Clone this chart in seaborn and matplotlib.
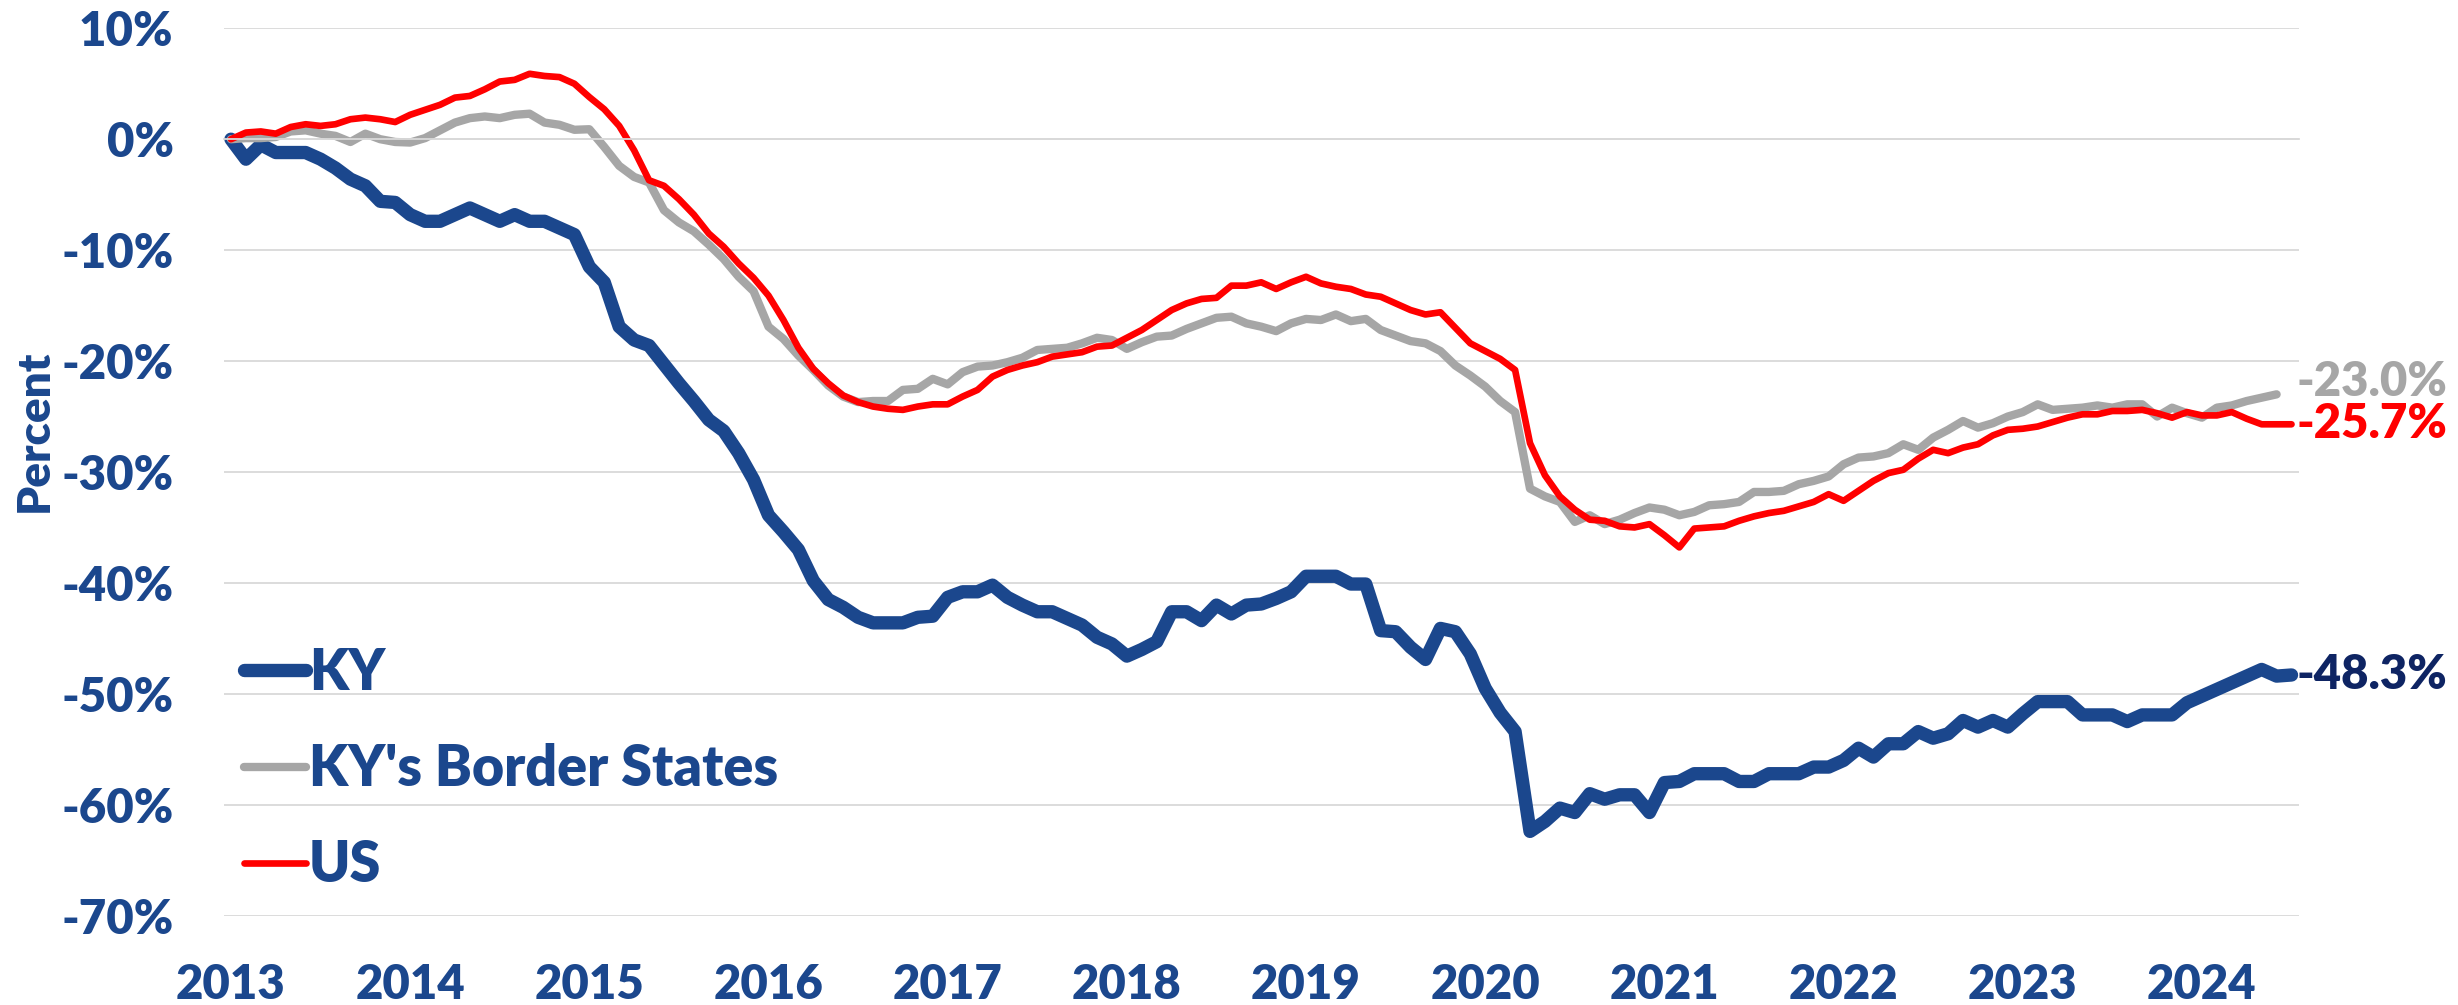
import numpy as np
import pandas as pd
import matplotlib
matplotlib.use("Agg")
import matplotlib.pyplot as plt
import seaborn as sns

# Cumulative percent change since January 2013, monthly (Jan 2013 - Jul 2024)
ky = [
    0.0, -1.8, -0.5, -1.2, -1.2, -1.2, -1.8, -2.6, -3.6, -4.2, -5.6, -5.7,
    -6.8, -7.4, -7.4, -6.8, -6.2, -6.8, -7.4, -6.8, -7.4, -7.4, -8.0, -8.6,
    -11.5, -12.9, -16.9, -18.1, -18.6, -20.3, -22.0, -23.6, -25.3, -26.3, -28.3, -30.7,
    -33.9, -35.4, -37.0, -39.8, -41.5, -42.2, -43.1, -43.6, -43.6, -43.6, -43.1, -43.0,
    -41.3, -40.8, -40.8, -40.2, -41.3, -42.0, -42.6, -42.6, -43.2, -43.8, -44.9, -45.5,
    -46.6, -46.0, -45.3, -42.6, -42.6, -43.4, -42.0, -42.8, -42.0, -41.9, -41.4, -40.8,
    -39.4, -39.4, -39.4, -40.1, -40.1, -44.3, -44.4, -45.8, -46.9, -44.1, -44.4, -46.4,
    -49.5, -51.7, -53.4, -62.4, -61.5, -60.3, -60.7, -59.0, -59.5, -59.1, -59.1, -60.7,
    -58.0, -57.9, -57.2, -57.2, -57.2, -57.9, -57.9, -57.2, -57.2, -57.2, -56.6, -56.6,
    -56.0, -54.9, -55.7, -54.5, -54.5, -53.4, -54.0, -53.6, -52.4, -53.0, -52.4, -53.0,
    -51.8, -50.7, -50.7, -50.7, -51.9, -51.9, -51.9, -52.5, -51.9, -51.9, -51.9, -50.8,
    -50.2, -49.6, -49.0, -48.4, -47.8, -48.4, -48.3,
]

border_states = [
    0.0, 0.1, 0.1, 0.2, 0.7, 0.8, 0.5, 0.3, -0.25, 0.5, 0.0, -0.25,
    -0.3, 0.1, 0.8, 1.5, 1.9, 2.05, 1.9, 2.2, 2.3, 1.5, 1.3, 0.85,
    0.9, -0.7, -2.4, -3.4, -3.9, -6.4, -7.5, -8.3, -9.5, -10.8, -12.4, -13.7,
    -16.9, -18.0, -19.5, -20.8, -22.2, -23.2, -23.7, -23.6, -23.6, -22.6, -22.5, -21.6,
    -22.1, -21.0, -20.5, -20.4, -20.1, -19.7, -19.0, -18.9, -18.8, -18.4, -17.9, -18.1,
    -18.9, -18.3, -17.8, -17.7, -17.1, -16.6, -16.1, -16.0, -16.6, -16.9, -17.3, -16.6,
    -16.2, -16.3, -15.8, -16.4, -16.2, -17.2, -17.7, -18.2, -18.4, -19.1, -20.4, -21.3,
    -22.3, -23.6, -24.6, -31.5, -32.2, -32.7, -34.5, -33.9, -34.7, -34.3, -33.7, -33.2,
    -33.4, -33.9, -33.6, -33.0, -32.9, -32.7, -31.8, -31.8, -31.7, -31.1, -30.8, -30.4,
    -29.3, -28.7, -28.6, -28.3, -27.5, -28.0, -26.9, -26.2, -25.4, -26.0, -25.6, -25.0,
    -24.6, -23.9, -24.4, -24.3, -24.2, -24.0, -24.2, -23.9, -23.9, -25.0, -24.2, -24.7,
    -25.1, -24.2, -24.0, -23.6, -23.3, -23.0, np.nan,
]

us = [
    0.0, 0.6, 0.7, 0.5, 1.1, 1.35, 1.2, 1.35, 1.8, 1.95, 1.8, 1.55,
    2.2, 2.65, 3.1, 3.75, 3.9, 4.5, 5.2, 5.35, 5.9, 5.7, 5.6, 5.0,
    3.8, 2.7, 1.2, -1.0, -3.7, -4.2, -5.4, -6.8, -8.5, -9.7, -11.2, -12.5,
    -14.1, -16.3, -18.8, -20.7, -22.0, -23.1, -23.7, -24.1, -24.3, -24.4, -24.1, -23.9,
    -23.9, -23.2, -22.6, -21.4, -20.8, -20.4, -20.1, -19.6, -19.4, -19.2, -18.7, -18.6,
    -17.9, -17.2, -16.3, -15.4, -14.8, -14.4, -14.3, -13.2, -13.2, -12.9, -13.5, -12.9,
    -12.4, -13.0, -13.3, -13.5, -14.0, -14.2, -14.8, -15.4, -15.8, -15.6, -17.0, -18.4,
    -19.1, -19.8, -20.8, -27.4, -30.3, -32.2, -33.4, -34.3, -34.4, -34.9, -35.0, -34.7,
    -35.7, -36.8, -35.1, -35.0, -34.9, -34.4, -34.0, -33.7, -33.5, -33.1, -32.7, -32.0,
    -32.6, -31.7, -30.8, -30.1, -29.8, -28.8, -28.0, -28.3, -27.8, -27.5, -26.7, -26.2,
    -26.1, -25.9, -25.5, -25.1, -24.8, -24.8, -24.5, -24.5, -24.4, -24.7, -25.1, -24.6,
    -24.9, -24.9, -24.6, -25.2, -25.7, -25.7, -25.7,
]

series_names = ["KY", "KY's Border States", "US"]
year_labels = [str(y) for y in range(2013, 2025)]
y_ticks = [10, 0, -10, -20, -30, -40, -50, -60, -70]
y_tick_labels = ["10%", "0%", "-10%", "-20%", "-30%", "-40%", "-50%", "-60%", "-70%"]

BLUE = "#1B478D"
NAVY = "#0E2463"
GREY = "#A6A6A6"
RED = "#FF0000"
GRID = "#D9D9D9"
WEIGHT = "heavy"

sns.set_theme(style="white")
plt.rcParams["font.family"] = ["Lato", "DejaVu Sans"]
plt.rcParams["font.weight"] = WEIGHT

months = pd.date_range("2013-01-01", periods=len(ky), freq="MS")
df = pd.DataFrame({
    "pos": np.arange(len(months)),
    series_names[0]: ky,
    series_names[1]: border_states,
    series_names[2]: us,
})
long = df.melt(id_vars="pos", var_name="series", value_name="pct")

fig = plt.figure(figsize=(24.58, 10.05), dpi=100)
ax = fig.add_axes([0.09093, 0.08886, 0.84438, 0.88299])

styles = {
    "KY": dict(color=BLUE, linewidth=9.6),
    "KY's Border States": dict(color=GREY, linewidth=6.0),
    "US": dict(color=RED, linewidth=4.8),
}
for name in series_names:
    sub = long[long["series"] == name].dropna()
    sns.lineplot(data=sub, x="pos", y="pct", ax=ax, estimator=None, legend=False,
                 solid_capstyle="round", solid_joinstyle="round", **styles[name])

ax.set_xlim(-0.5, len(months) - 0.5)
ax.set_ylim(-70, 10)
ax.set_xlabel("")
ax.set_ylabel("")

# horizontal gridlines
ax.set_yticks(y_ticks)
ax.set_yticklabels(y_tick_labels)
ax.yaxis.grid(True, color=GRID, linewidth=1.3)
ax.xaxis.grid(False)
ax.set_axisbelow(True)
ax.tick_params(axis="y", length=0, pad=36, labelsize=34, labelcolor=BLUE)
for lab in ax.get_yticklabels():
    lab.set_fontweight(WEIGHT)

for side in ("left", "right", "top"):
    ax.spines[side].set_visible(False)

# category axis drawn along the 0% line with quarterly tick marks
ax.spines["bottom"].set_position(("data", 0))
ax.spines["bottom"].set_color(GRID)
ax.spines["bottom"].set_linewidth(1.3)
ax.set_xticks(np.arange(-0.5, len(months) - 0.5, 3))
ax.tick_params(axis="x", direction="in", length=10.8, width=1.3, color=GRID,
               labelbottom=False)

# year labels along the bottom of the plot
sec = ax.secondary_xaxis("bottom")
sec.set_xticks(np.arange(0, len(months), 12))
sec.set_xticklabels(year_labels)
sec.spines["bottom"].set_visible(False)
sec.tick_params(axis="x", length=0, pad=34, labelsize=34, labelcolor=BLUE)
for lab in sec.get_xticklabels():
    lab.set_fontweight(WEIGHT)

fig.text(34 / 2458, 1 - 431 / 1005, "Percent", rotation=90, ha="center",
         va="center", fontsize=33, fontweight=WEIGHT, color=BLUE)

# end-of-series value labels
last_vals = {
    "KY": (ky[-1], NAVY, 0),
    "KY's Border States": (border_states[-2], GREY, 9),
    "US": (us[-1], RED, 0),
}
for name, (val, col, dy) in last_vals.items():
    ax.annotate(f"{val:.1f}%", xy=(len(months) - 0.5, val), xytext=(-1.5, dy),
                textcoords="offset points", ha="left", va="center",
                fontsize=34, fontweight=WEIGHT, color=col, annotation_clip=False)

handles = ax.get_lines()[:3]
leg = ax.legend(handles, series_names, loc="center left",
                bbox_to_anchor=(0.0099, 0.1653), frameon=False,
                prop={"size": 40, "weight": WEIGHT}, handlelength=1.12,
                handletextpad=0.05, labelspacing=0.8, borderpad=0,
                borderaxespad=0)
for t in leg.get_texts():
    t.set_color(BLUE)

fig.savefig("out.png", dpi=100)
